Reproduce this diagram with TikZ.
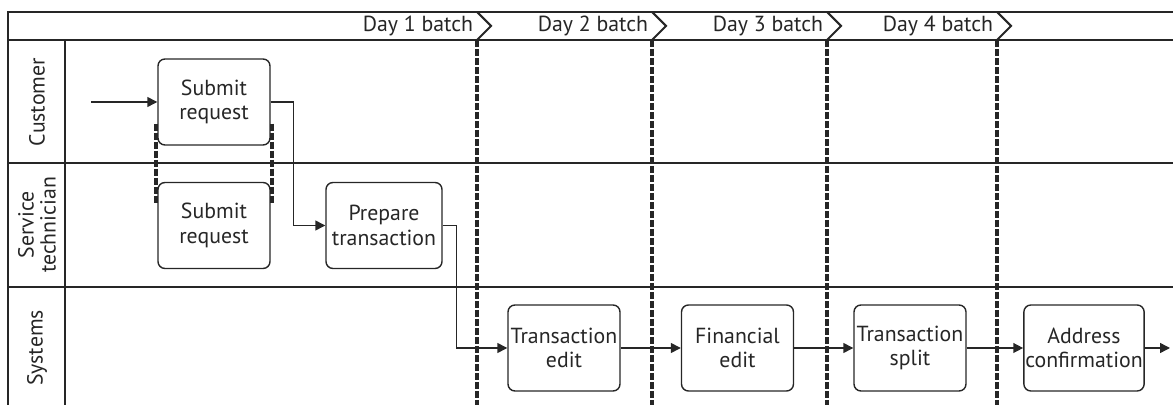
\documentclass[tikz,border=0pt]{standalone}
\usepackage{fontspec}
\setmainfont{PT Sans}
\usetikzlibrary{arrows.meta,positioning}
\tikzset{>={Triangle[length=7pt,width=7pt]}}
\colorlet{penColor}{black!85}
\tikzset{
  task/.style={draw=penColor, line width=1pt, rounded corners=5pt, align=center,
    minimum width=2.8cm, minimum height=2.15cm, inner sep=1pt},
  batchline/.style={penColor, line width=2.6pt, dash pattern=on 5pt off 1.4pt},
  flow/.style={->, penColor, line width=1pt},
}

\begin{document}
\begin{tikzpicture}[x=0.025cm, y=-0.025cm, font=\fontsize{15.5}{17.5}\selectfont, text=penColor]
				\useasboundingbox (0,0) rectangle (1173,405);
				% lanes
				\draw[penColor, line width=1pt] (1173,12) -- (8,12) -- (8,405);
				\draw[penColor, line width=1pt] (8,40) -- (1173,40);
				\draw[penColor, line width=1pt] (65,40) -- (65,405);
				\draw[penColor, line width=1pt] (8,163) -- (1173,163);
				\draw[penColor, line width=1pt] (8,287) -- (1173,287);
				\node [rotate=90] (custLabel) at (37,102) {Customer};
				\node [rotate=90, align=center, font=\fontsize{15.5}{15.5}\selectfont] (techLabel) at (37,225) {Service\\technician};
				\node [rotate=90] (sysLabel) at (37,348) {Systems};
				% batches
				\foreach \x/\d in {477/1, 652/2, 827/3, 997/4}{
					\draw[batchline] (\x,40) -- (\x,405);
					\draw[penColor, line width=1.5pt] (\x,12) -- (\x+14,26) -- (\x,40);
					\node [left] (day\d) at (\x+1,26) {Day \d\ batch};
				}
				% tasks
				\node [task] (subCust) at (214,102) {Submit\\request};
				\node [task] (subTech) at (214,225.5) {Submit\\request};
				\node [task, minimum width=2.9cm] (prep) at (384,225.5) {Prepare\\transaction};
				\node [task] (tEdit) at (564,348) {Transaction\\edit};
				\node [task] (fEdit) at (737.5,348) {Financial\\edit};
				\node [task] (tSplit) at (910,348) {Transaction\\split};
				\node [task, minimum width=2.85cm] (addr) at (1084,348) {Address\\confirmation};
				\draw[batchline] ([xshift=-1pt,yshift=0.55cm]subCust.south west) -- ([xshift=-1pt,yshift=-0.55cm]subTech.north west);
				\draw[batchline] ([xshift=1pt,yshift=0.55cm]subCust.south east) -- ([xshift=1pt,yshift=-0.55cm]subTech.north east);
				% flow
				\coordinate (start) at (91,102);
				\coordinate (finish) at (1170,348);
				\draw[flow] (start) -- (subCust);
				\draw[flow] (subCust.east) -- ++(23,0) |- (prep.west);
				\draw[flow] (prep.east) -- ++(14,0) |- (tEdit.west);
				\draw[flow] (tEdit) -- (fEdit);
				\draw[flow] (fEdit) -- (tSplit);
				\draw[flow] (tSplit) -- (addr);
				\draw[flow] (addr) -- (finish);
				\end{tikzpicture}
\end{document}
